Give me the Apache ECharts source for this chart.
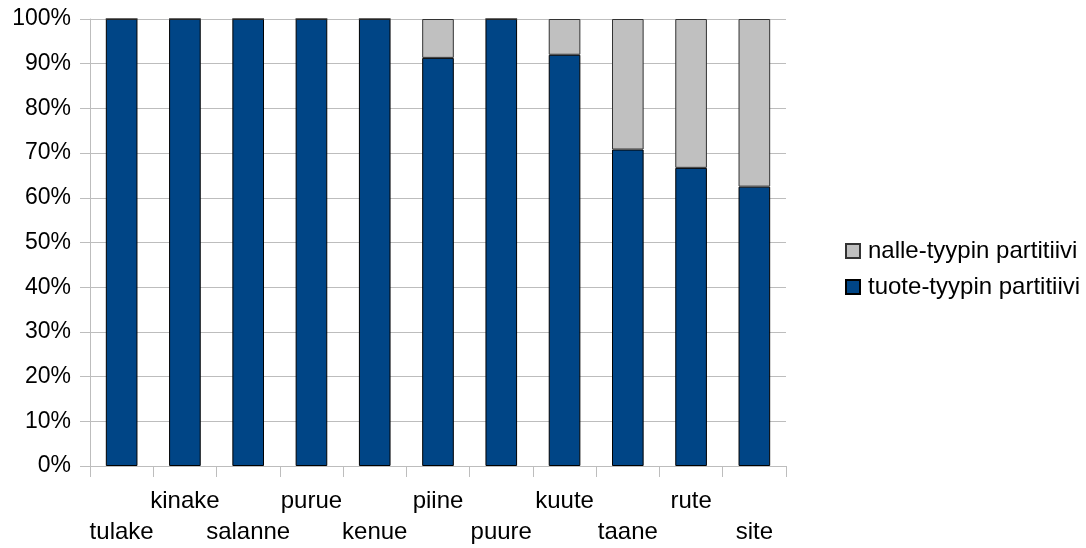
<!DOCTYPE html>
<html>
<head>
<meta charset="utf-8">
<script src="https://cdn.jsdelivr.net/npm/echarts@6/dist/echarts.min.js"></script>
<style>
html,body{margin:0;padding:0;background:#fff;}
#c{width:1086px;height:548px;}
</style>
</head>
<body>
<div id="c"></div>
<script>
var categories = ['tulake','kinake','salanne','purue','kenue','piine','puure','kuute','taane','rute','site'];
var tuote = [100,100,100,100,100,91.3,100,92,70.8,66.7,62.5];
var nalle = [0,0,0,0,0,8.7,0,8,29.2,33.3,37.5];
var yTicks = [0,10,20,30,40,50,60,70,80,90,100];

var chart = echarts.init(document.getElementById('c'));
var font = 'Liberation Sans';
chart.setOption({
  animation: false,
  backgroundColor: '#fff',
  textStyle: {fontFamily: font},
  grid: {left: 90, right: 300, top: 19, bottom: 81, containLabel: false},
  legend: {
    orient: 'vertical',
    left: 840,
    top: 234,
    itemWidth: 14,
    itemHeight: 14,
    itemGap: 12,
    icon: 'rect',
    data: ['nalle-tyypin partitiivi', 'tuote-tyypin partitiivi'],
    textStyle: {fontFamily: font, fontSize: 24, color: '#000', padding: [0,0,0,3]}
  },
  xAxis: {
    type: 'category',
    data: categories,
    axisLine: {show: true, lineStyle: {color: '#bdbdbd', width: 1}},
    axisTick: {show: true, interval: 0, length: 11, lineStyle: {color: '#bdbdbd'}},
    axisLabel: {
      interval: 0,
      margin: 20,
      fontFamily: font,
      fontSize: 24,
      color: '#000',
      lineHeight: 31,
      formatter: function (v, i) { return (i % 2 === 0 ? '\n' : '') + v; }
    },
    splitLine: {show: false}
  },
  yAxis: {
    type: 'value',
    min: 0,
    max: 100,
    interval: 10,
    axisLine: {show: true, lineStyle: {color: '#bdbdbd', width: 1}},
    axisTick: {show: true, length: 10, lineStyle: {color: '#bdbdbd'}},
    axisLabel: {
      margin: 19,
      fontFamily: font,
      fontSize: 23,
      color: '#000',
      padding: [4,0,0,0],
      formatter: function (v) { return yTicks.indexOf(v) >= 0 ? v + '%' : ''; }
    },
    splitLine: {show: true, lineStyle: {color: '#bdbdbd', width: 1}}
  },
  series: [
    {
      name: 'tuote-tyypin partitiivi',
      type: 'bar',
      stack: 'a',
      barWidth: '50%',
      data: tuote,
      itemStyle: {color: '#004586', borderColor: '#000', borderWidth: 1}
    },
    {
      name: 'nalle-tyypin partitiivi',
      type: 'bar',
      stack: 'a',
      barWidth: '50%',
      data: nalle,
      itemStyle: {color: '#c0c0c0', borderColor: '#333', borderWidth: 1}
    }
  ]
});
</script>
</body>
</html>
